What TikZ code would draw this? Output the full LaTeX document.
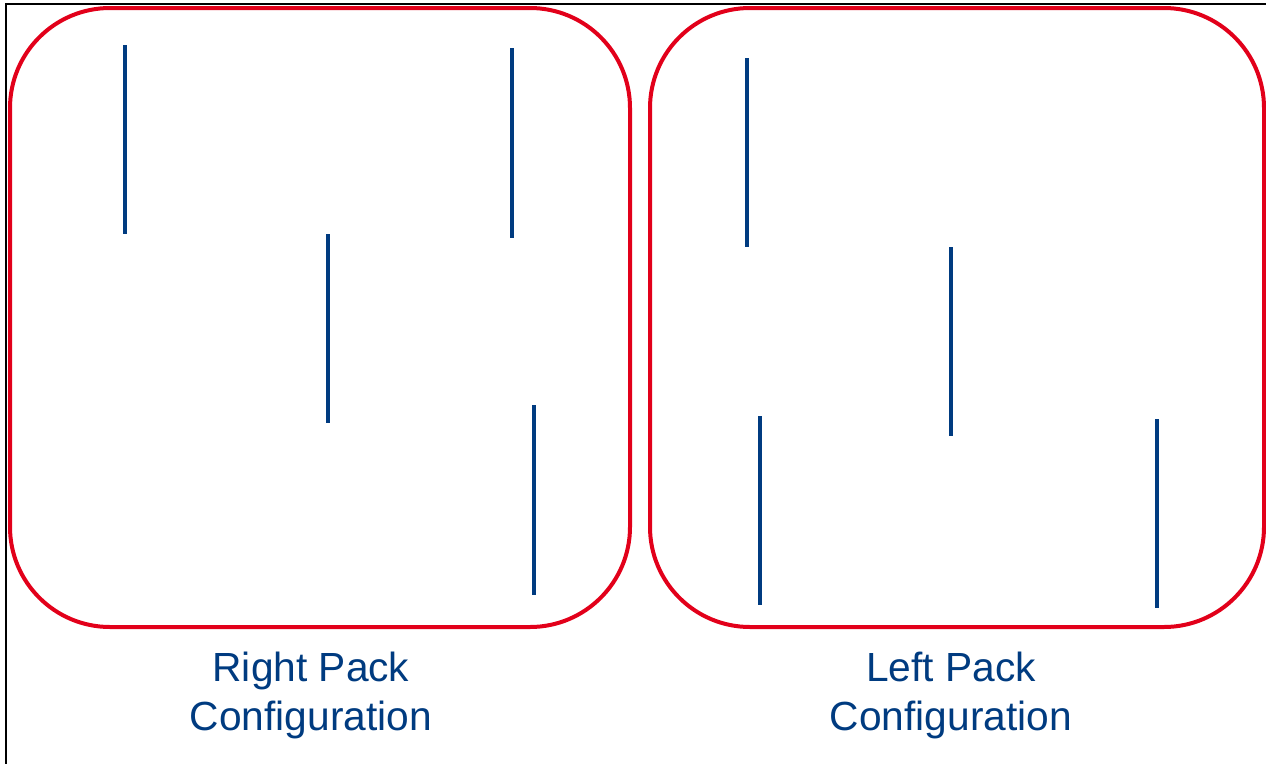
\documentclass[tikz,border=0pt]{standalone}
\usepackage{fontspec}
\setmainfont{Liberation Sans}
\definecolor{packred}{HTML}{E2001A}
\definecolor{cellblue}{HTML}{003B80}
\begin{document}
\begin{tikzpicture}[x=1pt,y=-1pt,
  pack/.style={draw=packred,line width=4pt,rounded corners=100pt},
  cell/.style={draw=cellblue,line width=3.4pt},
  caption/.style={text=cellblue,font=\fontsize{40.7}{49}\selectfont,align=center}]
  \useasboundingbox (0,0) rectangle (1266,763);
  \begin{scope}
    \clip (0,0) rectangle (1266,763);
    % outer frame
    \draw[line width=1.5pt,black] (6,4) rectangle (1290,790);
    % pack outlines
    \draw[pack] (10,8) rectangle (630,627);
    \draw[pack] (650,8) rectangle (1264,627);
  \end{scope}
  % right pack cells
  \coordinate (r1a) at (125,45);  \coordinate (r1b) at (125,234);
  \coordinate (r2a) at (328,234); \coordinate (r2b) at (328,423);
  \coordinate (r3a) at (512,48);  \coordinate (r3b) at (512,238);
  \coordinate (r4a) at (534,405); \coordinate (r4b) at (534,595);
  \draw[cell] (r1a) -- (r1b);
  \draw[cell] (r2a) -- (r2b);
  \draw[cell] (r3a) -- (r3b);
  \draw[cell] (r4a) -- (r4b);
  % left pack cells
  \coordinate (l1a) at (747,58);   \coordinate (l1b) at (747,247);
  \coordinate (l2a) at (951,247);  \coordinate (l2b) at (951,436);
  \coordinate (l3a) at (760,416);  \coordinate (l3b) at (760,605);
  \coordinate (l4a) at (1157,419); \coordinate (l4b) at (1157,608);
  \draw[cell] (l1a) -- (l1b);
  \draw[cell] (l2a) -- (l2b);
  \draw[cell] (l3a) -- (l3b);
  \draw[cell] (l4a) -- (l4b);
  % captions
  \node[caption] (rcap) at (311,695) {Right Pack\\Configuration};
  \node[caption] (lcap) at (951,695) {Left Pack\\Configuration};
\end{tikzpicture}
\end{document}
